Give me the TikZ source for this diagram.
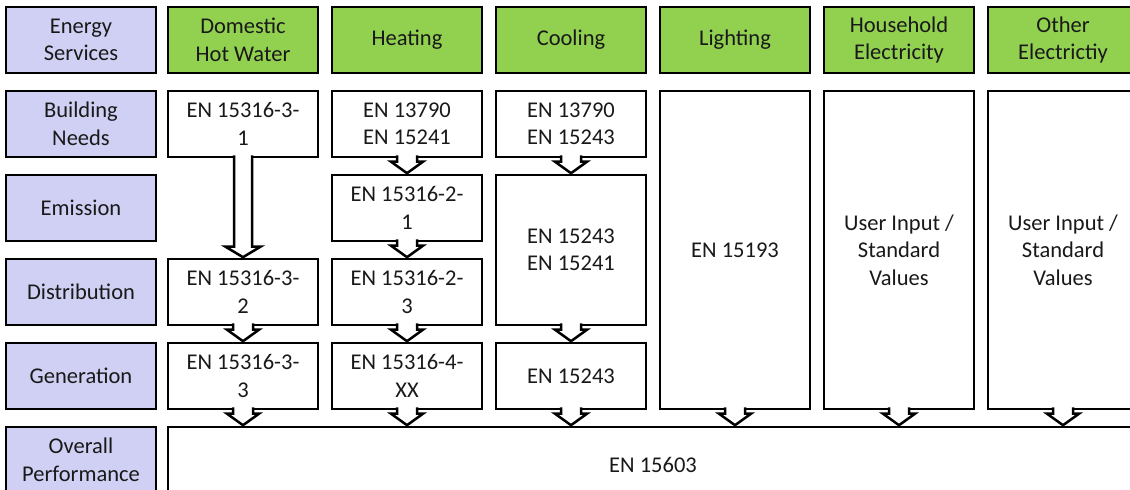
\documentclass[tikz,border=0pt]{standalone}
\usepackage{fontspec}
\setmainfont{Carlito}
\usetikzlibrary{calc}
\definecolor{labfill}{RGB}{208,208,244}
\definecolor{svcfill}{RGB}{146,208,80}
\definecolor{txt}{RGB}{25,25,25}
\tikzset{
  box/.style={draw=black, line width=2.6pt, fill=white, inner sep=0pt, align=center,
    text=txt, font=\fontsize{22.5}{27.5}\selectfont, minimum width=150pt},
  lab/.style={box, fill=labfill, minimum height=66pt},
  svc/.style={box, fill=svcfill, minimum height=66pt},
  cell/.style={box, minimum height=66pt},
  barrow/.style={draw=black, line width=2.5pt, fill=white, line join=miter},
}
% block arrow from south of #1 to north of #2: shaft half-width #3, head half-width #4, head length #5
\newcommand{\blockarrow}[5]{%
  \filldraw[barrow] let \p1=(#1.south), \p2=(#2.north) in
    (\x1-#3,\y1+3pt) -- (\x1-#3,\y2+#5) -- (\x1-#4,\y2+#5) -- (\x1,\y2+0.5pt)
    -- (\x1+#4,\y2+#5) -- (\x1+#3,\y2+#5) -- (\x1+#3,\y1+3pt);
}
\begin{document}
\begin{tikzpicture}[x=1pt,y=-1pt]
\useasboundingbox (0,0) rectangle (1130,490);
% left labels
\node[lab] (les) at (81,40) {Energy\\Services};
\node[lab] (lbn) at (81,124) {Building\\Needs};
\node[lab] (lem) at (81,208) {Emission};
\node[lab] (ldi) at (81,292) {Distribution};
\node[lab] (lge) at (81,376) {Generation};
\node[lab] (lop) at (81,460) {Overall\\Performance};
% services
\node[svc] (sdhw) at (243,40) {Domestic\\Hot Water};
\node[svc] (shea) at (407,40) {Heating};
\node[svc] (scoo) at (571,40) {Cooling};
\node[svc] (slig) at (735,40) {Lighting};
\node[svc] (shou) at (899,40) {Household\\Electricity};
\node[svc] (soth) at (1063,40) {Other\\Electrictiy};
% DHW column
\node[cell] (dbn) at (243,124) {EN 15316-3-\\1};
\node[cell] (ddi) at (243,292) {EN 15316-3-\\2};
\node[cell] (dge) at (243,376) {EN 15316-3-\\3};
% Heating column
\node[cell] (hbn) at (407,124) {EN 13790\\EN 15241};
\node[cell] (hem) at (407,208) {EN 15316-2-\\1};
\node[cell] (hdi) at (407,292) {EN 15316-2-\\3};
\node[cell] (hge) at (407,376) {EN 15316-4-\\XX};
% Cooling column
\node[cell] (cbn) at (571,124) {EN 13790\\EN 15243};
\node[cell, minimum height=150pt] (ced) at (571,250) {EN 15243\\EN 15241};
\node[cell] (cge) at (571,376) {EN 15243};
% Lighting, household, other
\node[cell, minimum height=318pt] (lig) at (735,250) {EN 15193};
\node[cell, minimum height=318pt] (hou) at (899,250) {User Input /\\Standard\\Values};
\node[cell, minimum height=318pt] (oth) at (1063,250) {User Input /\\Standard\\Values};
% overall
\node[cell, minimum width=970pt, minimum height=76pt] (ovr) at (653,465) {EN 15603};
% arrows
\blockarrow{dbn}{ddi}{9pt}{17.5pt}{11pt}
\blockarrow{hbn}{hem}{10pt}{16pt}{12pt}
\blockarrow{cbn}{ced}{10pt}{16pt}{12pt}
\blockarrow{hem}{hdi}{10pt}{16pt}{12pt}
\blockarrow{ddi}{dge}{10pt}{16pt}{12pt}
\blockarrow{hdi}{hge}{10pt}{16pt}{12pt}
\blockarrow{ced}{cge}{10pt}{16pt}{12pt}
\blockarrow{dge}{ovr}{10pt}{16pt}{12pt}
\blockarrow{hge}{ovr}{10pt}{16pt}{12pt}
\blockarrow{cge}{ovr}{10pt}{16pt}{12pt}
\blockarrow{lig}{ovr}{10pt}{16pt}{12pt}
\blockarrow{hou}{ovr}{10pt}{16pt}{12pt}
\blockarrow{oth}{ovr}{10pt}{16pt}{12pt}
\end{tikzpicture}
\end{document}
